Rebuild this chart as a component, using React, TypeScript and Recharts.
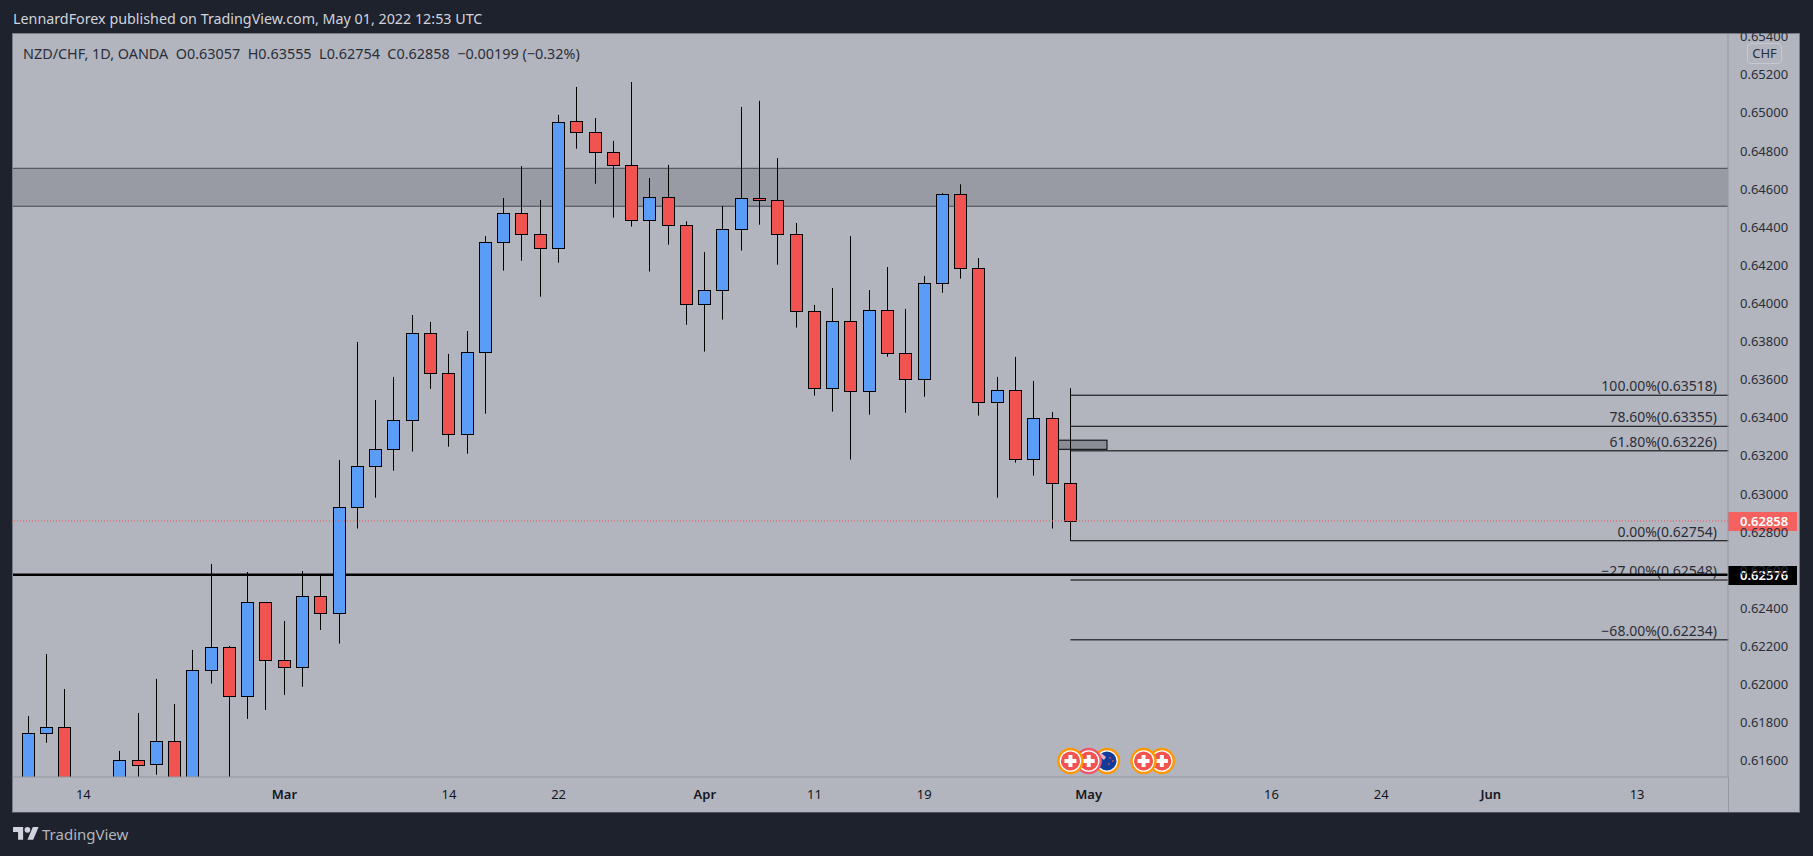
import React from "react";
import {
  ComposedChart,
  Bar,
  XAxis,
  YAxis,
  ReferenceArea,
  ReferenceLine,
  ReferenceDot,
} from "recharts";

const FONT = "'Noto Sans', sans-serif";

// trading days, Feb 9 -> Jun 20 (after Apr 29 the axis is empty)
const days = [
  "Feb 9", "Feb 10", "Feb 11", "Feb 14", "Feb 15", "Feb 16", "Feb 17", "Feb 18", "Feb 21", "Feb 22", "Feb 23", "Feb 24", "Feb 25", "Feb 28",
  "Mar 1", "Mar 2", "Mar 3", "Mar 4", "Mar 7", "Mar 8", "Mar 9", "Mar 10", "Mar 11", "Mar 14", "Mar 15", "Mar 16", "Mar 17", "Mar 18", "Mar 21", "Mar 22", "Mar 23", "Mar 24", "Mar 25", "Mar 28", "Mar 29", "Mar 30", "Mar 31",
  "Apr 1", "Apr 4", "Apr 5", "Apr 6", "Apr 7", "Apr 8", "Apr 11", "Apr 12", "Apr 13", "Apr 14", "Apr 15", "Apr 18", "Apr 19", "Apr 20", "Apr 21", "Apr 22", "Apr 25", "Apr 26", "Apr 27", "Apr 28", "Apr 29",
  "May 2", "May 3", "May 4", "May 5", "May 6", "May 9", "May 10", "May 11", "May 12", "May 13", "May 16", "May 17", "May 18", "May 19", "May 20", "May 23", "May 24", "May 25", "May 26", "May 27", "May 30", "May 31",
  "Jun 1", "Jun 2", "Jun 3", "Jun 6", "Jun 7", "Jun 8", "Jun 9", "Jun 10", "Jun 13", "Jun 14", "Jun 15", "Jun 16", "Jun 17", "Jun 20",
];

const opens = [
  0.6135, 0.61744, 0.61775, 0.6142, 0.6128, 0.6146, 0.61602, 0.61581, 0.61702, 0.614, 0.62074, 0.62195, 0.61938, 0.62431, 0.62127,
  0.6209, 0.62463, 0.62373, 0.6293, 0.63145, 0.63234, 0.63387, 0.63843, 0.63633, 0.63313, 0.63743, 0.64321, 0.64473, 0.64363, 0.64289,
  0.64956, 0.64898, 0.64793, 0.64725, 0.64436, 0.64557, 0.6441, 0.63995, 0.64069, 0.64389, 0.64552, 0.64541, 0.64363, 0.63959, 0.63554,
  0.63906, 0.63539, 0.63964, 0.63738, 0.63602, 0.64106, 0.64573, 0.64184, 0.63481, 0.63544, 0.63182, 0.63397, 0.63057,
];
const highs = [
  0.61834, 0.6216, 0.61976, 0.6148, 0.615, 0.61651, 0.6185, 0.62029, 0.61897, 0.62181, 0.62632, 0.62202, 0.6259, 0.62431, 0.62333,
  0.62595, 0.6258, 0.63178, 0.63798, 0.63493, 0.63614, 0.63939, 0.63903, 0.63735, 0.63855, 0.64354, 0.64553, 0.64721, 0.64543, 0.64989,
  0.65136, 0.64973, 0.64853, 0.65162, 0.64658, 0.64727, 0.64431, 0.6427, 0.64511, 0.65031, 0.65063, 0.64763, 0.64422, 0.63992, 0.64081,
  0.64354, 0.6407, 0.64191, 0.63971, 0.64144, 0.64578, 0.64625, 0.64238, 0.63614, 0.63719, 0.63593, 0.6343, 0.63555,
];
const lows = [
  0.6125, 0.61694, 0.613, 0.6122, 0.612, 0.6138, 0.6146, 0.61526, 0.614, 0.6135, 0.62004, 0.6148, 0.61819, 0.61866, 0.61945,
  0.61988, 0.62286, 0.62214, 0.62818, 0.6298, 0.63122, 0.63222, 0.63551, 0.63248, 0.63211, 0.63421, 0.64172, 0.64224, 0.64035, 0.64214,
  0.64812, 0.64628, 0.6445, 0.64403, 0.64167, 0.64308, 0.63888, 0.63747, 0.63915, 0.64277, 0.64413, 0.64203, 0.63873, 0.63516, 0.63432,
  0.6318, 0.63416, 0.6372, 0.63426, 0.6351, 0.64056, 0.6413, 0.63411, 0.6298, 0.63164, 0.63096, 0.62818, 0.62754,
];
const closes = [
  0.61744, 0.61775, 0.6142, 0.613, 0.6145, 0.61602, 0.61579, 0.61702, 0.6148, 0.62074, 0.62195, 0.61938, 0.62431, 0.62127, 0.6209,
  0.62463, 0.62373, 0.6293, 0.63145, 0.63234, 0.63387, 0.63843, 0.63633, 0.63313, 0.63743, 0.64321, 0.64473, 0.64363, 0.64289, 0.64954,
  0.64898, 0.64793, 0.64725, 0.64436, 0.64557, 0.6441, 0.63995, 0.64069, 0.64389, 0.64552, 0.64541, 0.64363, 0.63959, 0.63554, 0.63906,
  0.63539, 0.63964, 0.63738, 0.63602, 0.64106, 0.64573, 0.64184, 0.63481, 0.63544, 0.63182, 0.63397, 0.63056, 0.62858,
];

const priceTicks = [
  0.616, 0.618, 0.62, 0.622, 0.624, 0.626, 0.628, 0.63, 0.632, 0.634, 0.636, 0.638, 0.64, 0.642, 0.644, 0.646, 0.648, 0.65, 0.652, 0.654,
];
const dayTicks = ["Feb 14", "Mar 1", "Mar 14", "Mar 22", "Apr 1", "Apr 11", "Apr 19", "May 2", "May 16", "May 24", "Jun 1", "Jun 13"];
const dayTickLabels = ["14", "Mar", "14", "22", "Apr", "11", "19", "May", "16", "24", "Jun", "13"];

const fibPrices = [0.63518, 0.63355, 0.63226, 0.62754, 0.62548, 0.62234];
const fibLabels = [
  "100.00%(0.63518)",
  "78.60%(0.63355)",
  "61.80%(0.63226)",
  "0.00%(0.62754)",
  "\u221227.00%(0.62548)",
  "\u221268.00%(0.62234)",
];
const zone = [0.6451, 0.64709];
const smallBox = [0.63234, 0.63282];
const lastPrice = 0.62858;
const supportPrice = 0.62576;

// economic events under the last bars, later ones drawn first
const eventDays = ["May 6", "May 5", "May 3", "May 2", "Apr 29"];
const eventKinds = ["chf", "chf", "nzd", "chfRed", "chf"];
const eventLevel = 0.61598;

const rows = days.map((day, i) => ({
  day,
  open: opens[i],
  high: highs[i],
  low: lows[i],
  close: closes[i],
  range: opens[i] === undefined ? undefined : [lows[i], highs[i]],
}));

const Candle = (props: any) => {
  const { x, y, width, height, payload } = props;
  if (!payload || payload.open === undefined) return null;
  const { open, high, low, close } = payload;
  const toY = (v: number) => y + ((high - v) / (high - low)) * height;
  const cx = Math.floor(x + width / 2) + 0.5;
  const top = Math.round(toY(Math.max(open, close))) + 0.5;
  const bottom = Math.round(toY(Math.min(open, close))) + 0.5;
  return (
    <g>
      <line x1={cx} x2={cx} y1={y} y2={y + height} stroke="#000" strokeWidth={1} />
      <rect
        x={cx - 6}
        y={top}
        width={12}
        height={Math.max(bottom - top, 1)}
        fill={close >= open ? "#5b9cf6" : "#f05350"}
        stroke="#000"
        strokeWidth={1}
      />
    </g>
  );
};

const DayTick = (props: any) => {
  const { x, y, payload } = props;
  const label = dayTickLabels[dayTicks.indexOf(payload.value)];
  const isMonth = label.length > 2;
  return (
    <text x={x} y={y + 14} textAnchor="middle" fontSize={13} fontFamily={FONT} fontWeight={isMonth ? 600 : 400} fill="#131722">
      {label}
    </text>
  );
};

const FibLabel = (text: string) => (props: any) => {
  const { viewBox } = props;
  return (
    <text x={1717} y={viewBox.y - 4} textAnchor="end" fontSize={14} fontFamily={FONT} fill="#2a2e39">
      {text}
    </text>
  );
};

const PriceTag = (text: string, color: string, top: number) => () => (
  <g>
    <rect x={1728} y={top} width={69} height={19} fill={color} />
    <text x={1740} y={top + 14} fontSize={13} fontFamily={FONT} fontWeight={600} fill="#fff">
      {text}
    </text>
  </g>
);

const BoxShape = (props: any) => {
  const { x1, y1, x2, y2 } = props;
  return (
    <rect
      x={Math.min(x1, x2)}
      y={Math.min(y1, y2)}
      width={Math.abs(x2 - x1)}
      height={Math.abs(y2 - y1)}
      fill="#8a8d96"
      stroke="#000"
      strokeWidth={1}
    />
  );
};

// the band scale is wider than the plot, so the zone is stretched to the plot edges here
const ZoneShape = (props: any) => <rect x={13} y={props.y} width={1715} height={props.height} fill="#989ba4" />;

const EventBadge = (kind: string) => (props: any) => {
  const { cx, cy } = props;
  const ring = kind === "chfRed" ? "#f0566a" : "#ff9800";
  if (kind === "nzd") {
    return (
      <g>
        <circle cx={cx} cy={cy} r={12} fill="#fff" stroke={ring} strokeWidth={2.4} />
        <circle cx={cx} cy={cy} r={9.5} fill="#123c9c" />
        <path d={`M${cx - 9} ${cy - 6} L${cx - 3} ${cy - 1} L${cx - 1} ${cy - 4} L${cx - 6} ${cy - 8} Z`} fill="#e8b4c0" />
        <circle cx={cx + 3} cy={cy - 3} r={1} fill="#d8404f" />
        <circle cx={cx + 6} cy={cy} r={1} fill="#d8404f" />
        <circle cx={cx + 2} cy={cy + 3} r={1} fill="#d8404f" />
      </g>
    );
  }
  return (
    <g>
      <circle cx={cx} cy={cy} r={12} fill="#fff" stroke={ring} strokeWidth={2.4} />
      <circle cx={cx} cy={cy} r={9.5} fill="#f05350" />
      <rect x={cx - 6} y={cy - 2} width={12} height={4} fill="#fff" />
      <rect x={cx - 2} y={cy - 6} width={4} height={12} fill="#fff" />
    </g>
  );
};

export default function App() {
  return (
    <div style={{ position: "absolute", left: 0, top: 0, width: 1813, height: 856, background: "#1e222d", overflow: "hidden", fontFamily: FONT }}>
      <div style={{ position: "absolute", left: 12, top: 33, width: 1786, height: 778, background: "#b2b5be", border: "1px solid #787b86", borderBottomColor: "#50535e" }} />
      <div style={{ position: "absolute", left: 1728, top: 777, width: 1, height: 35, background: "#9598a1" }} />

      <div style={{ position: "absolute", left: 0, top: 0 }}>
        <ComposedChart width={1813} height={856} data={rows} margin={{ top: 34, right: 14, bottom: 44, left: 13 }}>
          <XAxis
            dataKey="day"
            height={35}
            ticks={dayTicks}
            interval={0}
            padding={{ left: 6.36, right: -9.64 }}
            tick={<DayTick />}
            tickLine={false}
            axisLine={{ stroke: "#9598a1" }}
          />
          <YAxis
            orientation="right"
            width={71}
            domain={[0.61514, 0.65414]}
            allowDataOverflow
            ticks={priceTicks}
            interval={0}
            tickFormatter={(v: number) => v.toFixed(5)}
            tick={{ fontSize: 13, fontFamily: FONT, fill: "#2a2e39" }}
            tickSize={0}
            tickMargin={12}
            axisLine={{ stroke: "#9598a1" }}
          />
          <ReferenceArea y1={zone[0]} y2={zone[1]} shape={ZoneShape} />
          <ReferenceLine y={zone[0]} stroke="#434651" strokeWidth={1} zIndex={200} />
          <ReferenceLine y={zone[1]} stroke="#434651" strokeWidth={1} zIndex={200} />
          <ReferenceLine
            stroke="none"
            ifOverflow="visible"
            zIndex={200}
            segment={[
              { x: "Apr 28", y: smallBox[1] },
              { x: "May 3", y: smallBox[0] },
            ]}
            shape={BoxShape}
          />
          {fibPrices.map((p, i) => (
            <ReferenceLine
              key={p}
              stroke="#000"
              strokeWidth={1}
              ifOverflow="visible"
              zIndex={200}
              segment={[
                { x: "Apr 29", y: p },
                { x: "Jun 20", y: p },
              ]}
              label={{ content: FibLabel(fibLabels[i]) }}
            />
          ))}
          <ReferenceLine y={supportPrice} stroke="#000" strokeWidth={2.5} zIndex={200} label={{ content: PriceTag("0.62576", "#000", 566) }} />
          <ReferenceLine y={lastPrice} stroke="#ef5350" strokeWidth={1} strokeDasharray="1 2" label={{ content: PriceTag("0.62858", "#f5615e", 512) }} />
          <Bar dataKey="range" barSize={12} shape={<Candle />} isAnimationActive={false} />
          {eventDays.map((d, i) => (
            <ReferenceDot key={d} x={d} y={eventLevel} r={12} ifOverflow="visible" shape={EventBadge(eventKinds[i])} />
          ))}
        </ComposedChart>
      </div>

      <div style={{ position: "absolute", left: 0, top: 0, width: 1813, height: 33, background: "#1e222d" }} />
      <div style={{ position: "absolute", left: 13, top: 9, fontSize: 14.3, lineHeight: "20px", color: "#d1d4dc", whiteSpace: "nowrap" }}>
        LennardForex published on TradingView.com, May 01, 2022 12:53 UTC
      </div>
      <div style={{ position: "absolute", left: 23, top: 44, fontSize: 14.4, lineHeight: "20px", color: "#2a2e39", whiteSpace: "pre" }}>
        {"NZD/CHF, 1D, OANDA  O0.63057  H0.63555  L0.62754  C0.62858  \u22120.00199 (\u22120.32%)"}
      </div>
      <div style={{ position: "absolute", left: 1747, top: 43, width: 33, height: 19, border: "1px solid #c8cad1", borderRadius: 4, background: "#b2b5be", color: "#2a2e39", fontSize: 13, lineHeight: "19px", textAlign: "center" }}>
        CHF
      </div>

      <svg style={{ position: "absolute", left: 13, top: 824 }} width={26} height={18} viewBox="0 0 36 25">
        <path d="M14 22H7V11H0V4h14v18zM28 22h-8l7.5-18h8L28 22z" fill="#d1d4dc" />
        <circle cx={20} cy={8} r={4} fill="#d1d4dc" />
      </svg>
      <div style={{ position: "absolute", left: 42, top: 823, fontSize: 15, lineHeight: "22px", color: "#b2b5be" }}>TradingView</div>
    </div>
  );
}
